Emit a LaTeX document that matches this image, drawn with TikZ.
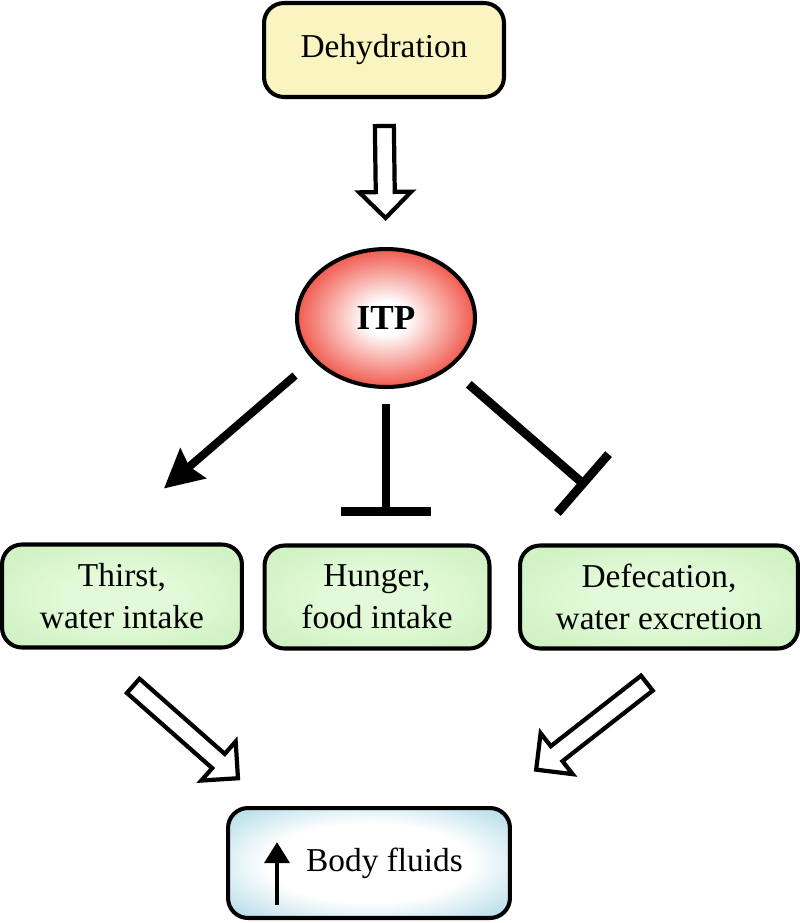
\documentclass[tikz,border=0pt]{standalone}
\usepackage{fontspec}
\setmainfont{Liberation Serif}
\usetikzlibrary{arrows.meta,calc,shapes.geometric}

\definecolor{dehydfill}{RGB}{250,245,192}
\definecolor{itpred}{RGB}{236,38,22}
\definecolor{greenin}{RGB}{226,250,216}
\definecolor{greenout}{RGB}{208,242,196}
\definecolor{fluidblue}{RGB}{184,222,234}
\pgfdeclareradialshading{itpshade}{\pgfpoint{0bp}{0bp}}{color(0bp)=(white); color(6bp)=(white); color(31bp)=(itpred); color(50bp)=(itpred)}
\pgfdeclareradialshading{greenshade}{\pgfpoint{0bp}{0bp}}{color(0bp)=(greenin); color(12bp)=(greenin); color(30bp)=(greenout); color(50bp)=(greenout)}
\pgfdeclareradialshading{fluidshade}{\pgfpoint{0bp}{0bp}}{color(0bp)=(white); color(18bp)=(white); color(33bp)=(fluidblue); color(50bp)=(fluidblue)}

\newcommand\gapstart{0.5cm}
\newcommand\gapend{0.5cm}
\tikzset{
    box/.style={draw, line width=2.3pt, rounded corners=0.4cm, align=center, font=\fontsize{19}{24}\selectfont},
    gaps/.code 2 args={\def\gapstart{#1}\def\gapend{#2}},
    hollow/.style={draw, line width=2.4pt, fill=white, to path={
        ($(\tikztostart)!\gapstart!(\tikztotarget)!0.19cm!90:(\tikztotarget)$)
        -- ($(\tikztotarget)!\gapend!(\tikztostart)!0.52cm!(\tikztostart)!0.19cm!90:(\tikztotarget)$)
        -- ($(\tikztotarget)!\gapend!(\tikztostart)!0.52cm!(\tikztostart)!0.52cm!90:(\tikztotarget)$)
        -- ($(\tikztotarget)!\gapend!(\tikztostart)$)
        -- ($(\tikztotarget)!\gapend!(\tikztostart)!0.52cm!(\tikztostart)!0.52cm!-90:(\tikztotarget)$)
        -- ($(\tikztotarget)!\gapend!(\tikztostart)!0.52cm!(\tikztostart)!0.19cm!-90:(\tikztotarget)$)
        -- ($(\tikztostart)!\gapstart!(\tikztotarget)!0.19cm!-90:(\tikztotarget)$) -- cycle}},
    act/.style={line width=4.6pt, -{Stealth[length=22pt, width=23pt, inset=3pt, line width=1pt]}},
    inhibit/.style={line width=5pt, -{Bar[width=#1]}}
}

\begin{document}
\begin{tikzpicture}[x=0.02cm, y=-0.02cm]
        \useasboundingbox (0,0) rectangle (800,923);

        \node[box, fill=dehydfill, minimum width=4.8cm, minimum height=1.88cm] (dehyd) at (384,50) {Dehydration};
        \node[draw, ellipse, line width=2.3pt, shade, shading=itpshade, minimum width=3.56cm, minimum height=2.76cm,
            font=\fontsize{20}{24}\selectfont\bfseries] (itp) at (386,318) {ITP};

        \node[box, shade, shading=greenshade, minimum width=4.8cm, minimum height=2.06cm] (thirst) at (122,596) {Thirst,\\water intake};
        \node[box, shade, shading=greenshade, minimum width=4.5cm, minimum height=2.06cm] (hunger) at (377,597) {Hunger,\\food intake};
        \node[box, shade, shading=greenshade, minimum width=5.56cm, minimum height=2.06cm] (defec) at (659,597) {Defecation,\\water excretion};

        \node[box, shade, shading=fluidshade, minimum width=5.64cm, minimum height=2.2cm] (body) at (369,863) {\hspace*{0.62cm}Body fluids};
        \draw[line width=2.8pt, -{Triangle[length=12pt, width=14pt]}] ($(body.south west)+(51,-15)$) -- ++(0,-63);

        \draw[hollow, gaps={0.54cm}{0.58cm}] (dehyd.south) to (itp.north);

        \draw[act, shorten <=0.47cm, shorten >=1.66cm] (itp.210) -- ($(thirst.north west)!0.415!(thirst.north east)$);
        \draw[inhibit=1.8cm, shorten <=0.3cm, shorten >=0.56cm] (itp.south) -- (itp.south |- hunger.north);
        \draw[inhibit=1.56cm, shorten <=0.49cm, shorten >=1.74cm] (itp.322) -- ($(defec.north west)!0.475!(defec.north east)$);

        \draw[hollow, gaps={1.1cm}{0.84cm}] ($(thirst.south west)!0.377!(thirst.south east)$) to ($(body.north west)!0.152!(body.north east)$);
        \draw[hollow, gaps={1.06cm}{1.18cm}] ($(defec.south west)!0.605!(defec.south east)$) to ($(body.north west)!0.922!(body.north east)$);
    \end{tikzpicture}
\end{document}
